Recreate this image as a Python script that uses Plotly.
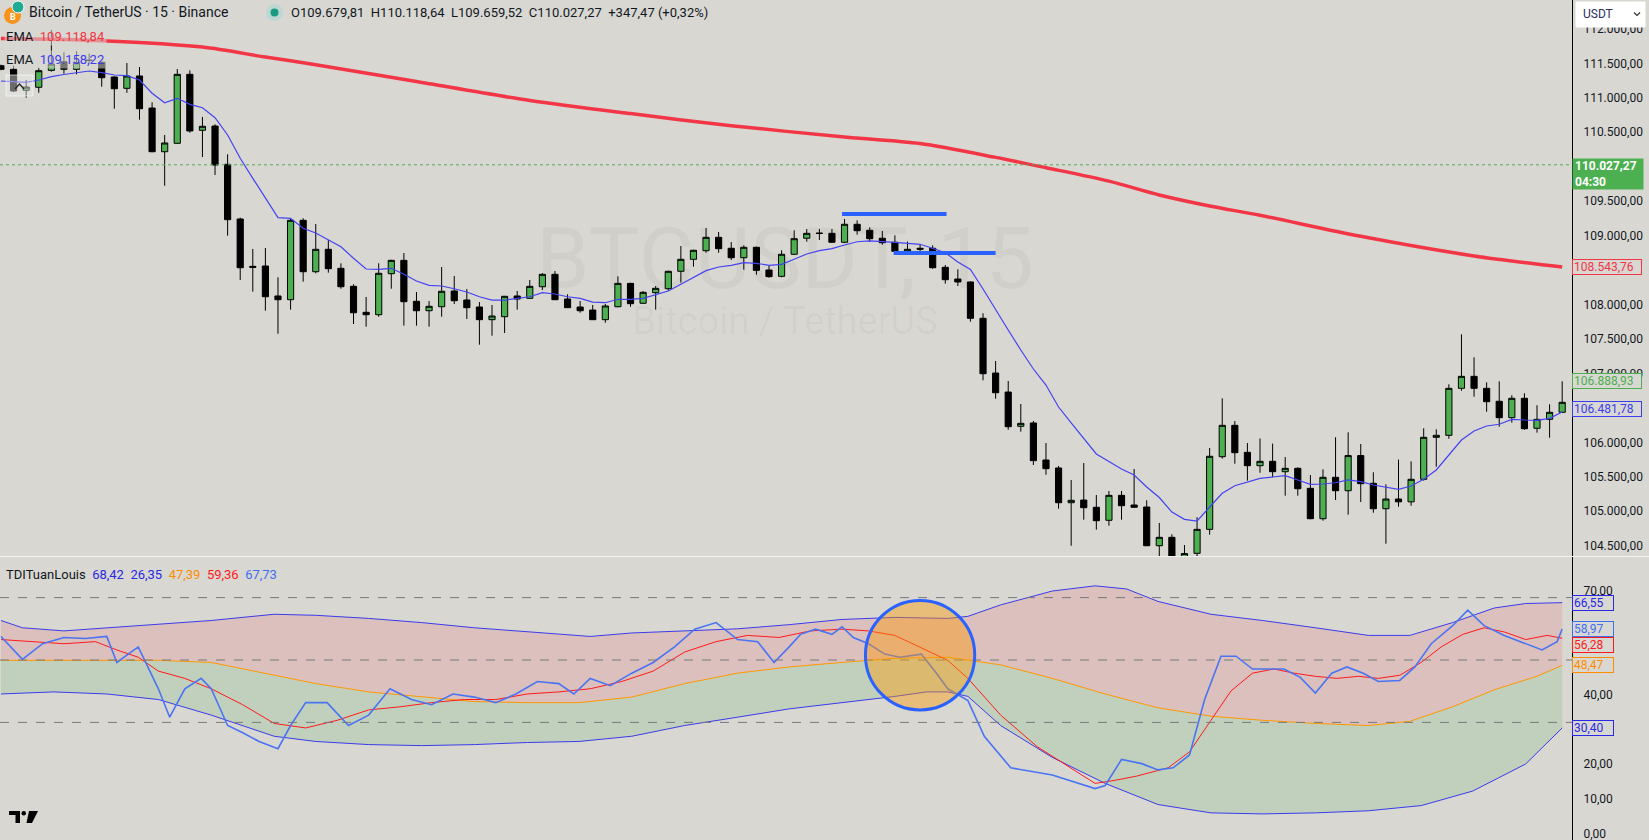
import plotly.graph_objects as go

W, H = 1649, 840
BG = "#d8d7d2"
TXT = "#131722"
FONT = "Roboto, Arial, sans-serif"

# ------------------------------------------------------------------ data
candle_idx = list(range(125))
opens = [111465, 111413, 111108, 111152, 111398, 111523, 111413, 111540, 111515, 111301,
         111137, 111316, 110851, 110217, 110339, 111340, 110528, 110590, 110034, 109241,
         108554, 108559, 108124, 108070, 109222, 108476, 108801, 108525, 108264, 107887,
         107852, 108447, 108641, 108047, 107910, 107968, 108196, 108066, 107964, 107780,
         107823, 108124, 108090, 108258, 108438, 108080, 107964, 107920, 107780, 107968,
         108307, 108018, 108171, 108229, 108482, 108656, 108781, 108975, 108816, 108679,
         108830, 108501, 108409, 108729, 108961, 109030, 109033, 108903, 109164, 109077,
         108961, 108903, 108772, 108816, 108816, 108540, 108370, 108327, 107800, 107006,
         106730, 106233, 106281, 105744, 105628, 105124, 105163, 105058, 104869, 105231,
         105091, 105062, 104500, 104622, 104330, 104390, 104738, 105792, 106247, 105855,
         105661, 105725, 105574, 105623, 105333, 104892, 105493, 105298, 105808, 105406,
         105037, 105178, 105137, 105464, 106073, 106102, 106784, 106958, 106784, 106596,
         106358, 106639, 106204, 106334, 106436]
highs = [111480, 111465, 111258, 111436, 111983, 111660, 111678, 111640, 111525, 111310,
         111504, 111446, 110934, 110460, 111417, 111398, 110721, 110615, 110180, 109260,
         108806, 108820, 108395, 109251, 109251, 109168, 108936, 108598, 108293, 108109,
         108598, 108650, 108747, 108181, 108051, 108544, 108414, 108225, 108036, 107993,
         108125, 108196, 108356, 108457, 108486, 108148, 108051, 107993, 108007, 108409,
         108315, 108196, 108269, 108490, 108849, 108795, 109110, 109052, 108907, 108859,
         108840, 108559, 108787, 109077, 109096, 109096, 109096, 109241, 109222, 109120,
         109067, 109004, 108913, 108874, 108859, 108573, 108511, 108335, 107873, 107180,
         106890, 106556, 106310, 105990, 105657, 105454, 105700, 105236, 105294, 105294,
         105613, 105159, 104830, 104666, 104510, 104913, 105918, 106639, 106310, 105990,
         106056, 105982, 105787, 105638, 105526, 105609, 106074, 106146, 105976, 105566,
         105391, 105750, 105725, 106204, 106189, 106842, 107568, 107234, 106871, 106886,
         106683, 106712, 106538, 106552, 106886]
lows = [111400, 111084, 111001, 111073, 111378, 111349, 111340, 111500, 111160, 110841,
        111073, 110682, 110210, 109724, 110335, 110493, 110140, 109879, 108999, 108356,
        108186, 107910, 107576, 107925, 108331, 108452, 108462, 108229, 107717, 107678,
        107823, 108229, 107693, 107693, 107678, 107823, 108007, 107790, 107417, 107547,
        107587, 107925, 108085, 108210, 108065, 107950, 107881, 107775, 107736, 107960,
        107968, 108010, 107925, 108200, 108317, 108549, 108752, 108752, 108646, 108505,
        108433, 108389, 108395, 108720, 108911, 108936, 108895, 108895, 109013, 108907,
        108868, 108765, 108733, 108733, 108520, 108302, 108269, 107751, 106900, 106633,
        106183, 106155, 105671, 105530, 105037, 104500, 104878, 104733, 104791, 104878,
        105050, 104495, 104322, 104300, 104250, 104330, 104660, 105763, 105690, 105444,
        105559, 105493, 105226, 105226, 104885, 104863, 105163, 104950, 105134, 104979,
        104529, 105066, 105080, 105444, 105647, 106053, 106749, 106662, 106445, 106227,
        106285, 106183, 106140, 106067, 106430]
closes = [111413, 111098, 111156, 111393, 111490, 111413, 111509, 111545, 111291, 111131,
          111316, 110841, 110217, 110344, 111340, 110518, 110586, 110024, 109231, 108534,
          108540, 108113, 108070, 109222, 108476, 108801, 108520, 108258, 107881, 107852,
          108453, 108641, 108041, 107910, 107974, 108192, 108055, 107954, 107780, 107833,
          108119, 108080, 108264, 108438, 108070, 107954, 107910, 107780, 107979, 108307,
          108012, 108177, 108235, 108482, 108656, 108787, 108975, 108810, 108679, 108830,
          108496, 108404, 108729, 108955, 109033, 109035, 108903, 109164, 109071, 108955,
          108897, 108772, 108801, 108801, 108534, 108360, 108327, 107800, 106996, 106720,
          106227, 106276, 105734, 105618, 105124, 105159, 105052, 104863, 105231, 105081,
          105058, 104500, 104622, 104350, 104386, 104738, 105798, 106247, 105850, 105661,
          105725, 105574, 105623, 105327, 104892, 105493, 105298, 105808, 105400, 105037,
          105178, 105137, 105464, 106073, 106102, 106784, 106958, 106784, 106590, 106358,
          106639, 106198, 106334, 106436, 106581]

ema_fast = [111243, 111233, 111224, 111258, 111306, 111337, 111364, 111388, 111364, 111330,
            111320, 111258, 111065, 110928, 110992, 110905, 110856, 110711, 110460, 110122,
            109831, 109541, 109260, 109251, 109106, 109038, 108936, 108839, 108671, 108515,
            108511, 108525, 108438, 108341, 108279, 108269, 108229, 108182, 108113, 108065,
            108065, 108084, 108113, 108171, 108153, 108113, 108090, 108036, 108026, 108076,
            108076, 108090, 108138, 108196, 108293, 108389, 108491, 108544, 108569, 108607,
            108598, 108569, 108583, 108656, 108733, 108781, 108810, 108864, 108911, 108922,
            108917, 108903, 108888, 108874, 108816, 108752, 108617, 108508, 108225, 107920,
            107630, 107340, 107064, 106832, 106513, 106281, 106049, 105831, 105722, 105613,
            105526, 105352, 105200, 104989, 104883, 104859, 105062, 105261, 105371, 105425,
            105478, 105497, 105516, 105454, 105391, 105396, 105414, 105454, 105429, 105381,
            105348, 105319, 105367, 105464, 105599, 105816, 106034, 106165, 106237, 106262,
            106334, 106324, 106320, 106349, 106440]

ema_slow_idx = [0, 8, 16, 21, 25, 33, 42, 50, 58, 67, 73, 79, 83, 88, 92, 96, 100, 108, 117, 124]
ema_slow = [111860, 111828, 111735, 111590, 111480, 111235, 110960, 110770, 110595, 110430,
            110335, 110135, 109985, 109790, 109590, 109430, 109295, 108990, 108705, 108544]

price_ticks = [104500, 105000, 105500, 106000, 107000, 107500, 108000,
               109000, 109500, 110500, 111000, 111500, 112000]
price_tick_text = ["104.500,00", "105.000,00", "105.500,00", "106.000,00",
                   "107.000,00", "107.500,00", "108.000,00", "109.000,00",
                   "109.500,00", "110.500,00", "111.000,00", "111.500,00", "112.000,00"]

last_price = 110027.27
last_price_txt = "110.027,27"
countdown = "04:30"
price_labels_val = [108543.76, 106888.93, 106481.78]
price_labels_txt = ["108.543,76", "106.888,93", "106.481,78"]
price_labels_col = ["#f23645", "#4caf50", "#3c3cf0"]

# horizontal drawings (start index, end index, price)
draw_x0 = [66.8, 70.9]
draw_x1 = [75.1, 79.0]
draw_price = [109314, 108747]

# TDI pane
up_x = [0, 1.7, 5, 8.4, 12.5, 16.7, 21.7, 25, 29.2, 33.4, 37.6, 41.8, 46.8, 50.1, 54.3,
        58.5, 62.6, 66.8, 71, 75.2, 76.8, 79.4, 83.5, 86.9, 89.4, 91.9, 96.1, 100.2, 104.4,
        108.6, 111.9, 115.3, 118.6, 121.1, 124]
up_v = [61.4, 59.3, 58.4, 59.3, 60.2, 61.4, 63.2, 62.9, 62.0, 60.8, 59.3, 58.1, 56.8, 57.8,
        58.4, 59.0, 60.2, 61.7, 62.3, 62.0, 62.6, 65.9, 69.9, 71.4, 70.5, 66.9, 63.2, 61.4,
        59.3, 57.1, 57.1, 60.8, 65.0, 66.3, 66.55]
mid_x = [0, 8.4, 12.5, 16.7, 20.9, 25, 29.2, 33.4, 37.6, 41.8, 45.9, 50.1, 54.3, 58.5, 62.6,
         66.8, 71, 75.2, 79.4, 83.5, 87.7, 91.9, 96.1, 100.2, 104.4, 108.6, 111.9, 115.3,
         118.6, 122, 124]
mid_v = [49.9, 49.9, 49.9, 49.3, 46.2, 43.2, 40.8, 39.3, 38.0, 37.7, 37.7, 39.3, 43.2, 46.2,
         48.0, 49.3, 50.5, 50.8, 48.6, 44.7, 40.2, 36.2, 33.8, 32.6, 31.7, 31.1, 32.3, 36.5,
         41.4, 45.3, 48.47]
low_x = [0, 4.2, 8.4, 12.5, 16.7, 19.2, 21.7, 25, 29.2, 33.4, 37.6, 41.8, 45.9, 50.1, 54.3,
         58.5, 62.6, 66.8, 71, 73.5, 75.2, 76.8, 79.4, 83.5, 87.7, 91.9, 96.1, 100.2, 104.4,
         108.6, 112.8, 116.9, 121.1, 124]
low_v = [40.2, 40.8, 40.2, 38.6, 34.1, 31.1, 28.0, 26.5, 25.6, 25.3, 25.6, 26.2, 26.5, 28.0,
         31.1, 33.5, 35.9, 37.7, 39.5, 40.8, 40.8, 39.5, 31.1, 21.9, 14.4, 8.3, 5.9, 5.6, 5.9,
         6.5, 8.0, 12.2, 20.0, 30.4]
rsi_x = [0, 1.7, 3.3, 5, 6.7, 8.4, 9.2, 10.9, 12.5, 13.4, 14.6, 15.9, 16.7, 18, 19.2, 20.5,
         22, 23, 24.2, 25.9, 27.6, 29.2, 30.9, 32.6, 34.2, 35.9, 37.6, 39.3, 40.9, 42.6, 44.3,
         45.5, 46.8, 48.4, 50.1, 51.8, 53.5, 55.1, 56.8, 58.5, 60.1, 61.4, 62.6, 63.5, 64.7,
         66, 66.8, 67.7, 68.9, 70.2, 71.4, 73.1, 74.3, 75.2, 76.8, 78.1, 80.2, 83.5, 86.9,
         87.7, 89, 90.6, 91.9, 93.1, 94.4, 95.6, 96.9, 98.1, 99.4, 100.2, 101.9, 103.2, 104.4,
         105.7, 106.9, 108.2, 109.4, 111.1, 112.3, 113.6, 115.3, 116.5, 117.8, 119.4, 120.7,
         122.4, 123.6, 124]
rsi_v = [56.8, 50.2, 54.7, 56.5, 56.2, 56.8, 49.3, 53.8, 41.7, 33.5, 41.7, 44.7, 41.7, 31.1,
         29.0, 26.5, 24.4, 31.1, 37.7, 37.7, 31.1, 34.1, 41.7, 38.6, 37.1, 40.2, 39.3, 37.7,
         40.2, 43.8, 43.2, 40.2, 44.7, 42.6, 46.2, 49.3, 53.8, 58.9, 60.8, 55.9, 55.3, 49.3,
         53.8, 57.4, 58.9, 57.4, 59.6, 56.5, 54.7, 51.7, 50.8, 51.7, 46.2, 41.7, 38.3, 28.0,
         18.9, 16.8, 12.9, 13.8, 21.3, 20.1, 18.3, 18.9, 22.6, 38.6, 51.1, 51.1, 47.4, 47.4,
         47.4, 45.0, 40.5, 46.2, 48.0, 46.2, 43.8, 44.1, 48.0, 54.7, 59.9, 64.4, 59.9, 57.1,
         55.3, 52.9, 55.3, 58.97]
sig_x = [0, 2.5, 5, 7.5, 9.2, 10.9, 12.5, 14.6, 16.7, 19.2, 21.7, 24.2, 26.7, 29.2, 31.7,
         34.2, 36.8, 39.3, 41.8, 44.3, 46.8, 49.3, 51.8, 54.3, 56.8, 59.3, 61.8, 64.3, 66.8,
         68.9, 71, 73.1, 75.2, 76.8, 79.4, 82.3, 85.2, 86.9, 88.5, 90.2, 92.7, 94.4, 96.1,
         97.7, 99.4, 101.1, 102.7, 104.4, 106.1, 107.8, 109.4, 111.1, 112.8, 114.4, 116.1,
         117.8, 119.4, 121.1, 122.8, 124]
sig_v = [55.9, 55.3, 54.7, 55.3, 52.9, 50.8, 46.8, 44.7, 41.7, 37.1, 31.7, 30.4, 32.6, 35.6,
         36.5, 37.7, 38.6, 38.6, 40.2, 40.8, 41.7, 43.8, 46.8, 52.3, 55.3, 57.1, 56.5, 58.4,
         58.9, 58.4, 57.1, 53.5, 49.9, 44.7, 34.1, 25.0, 18.3, 14.4, 15.3, 16.5, 18.9, 23.5,
         32.6, 41.1, 46.2, 47.4, 46.2, 45.3, 44.7, 45.3, 44.7, 45.6, 49.3, 53.8, 57.4, 59.3,
         58.1, 55.9, 57.1, 56.28]
tdi_ticks = [0, 10, 20, 40, 70]
tdi_tick_text = ["0,00", "10,00", "20,00", "40,00", "70,00"]
tdi_levels = [32, 50, 68]
tdi_labels_val = [66.55, 58.97, 56.28, 48.47, 30.40]
tdi_labels_txt = ["66,55", "58,97", "56,28", "48,47", "30,40"]
tdi_labels_col = ["#2828e6", "#3f6ff2", "#ff1a1a", "#ff8c00", "#2828e6"]
tdi_legend_vals = ["68,42", "26,35", "47,39", "59,36", "67,73"]
tdi_legend_cols = ["#2828e6", "#2828e6", "#ff8c00", "#ff1a1a", "#3f6ff2"]

# circle drawing in the TDI pane (center index, center value, radii)
circle_c = [73.0, 51.4]
circle_r = [4.34, 15.8]

# ------------------------------------------------------------------ geometry helpers
PLOT_R = 1572
PRICE_BOT = 556.5
TDI_TOP = 557
LABEL_H = 16.5


def xp(px):
    return px / W


def yp(py):
    return 1 - py / H


X_RANGE = [-0.079, 124.78]
Y_RANGE = [104343.7, 112418.5]
Y2_RANGE = [-1.93, 79.72]


def tdi_px(v):
    return TDI_TOP + (Y2_RANGE[1] - v) / (Y2_RANGE[1] - Y2_RANGE[0]) * (H - TDI_TOP)


fig = go.Figure()

# ------------------------------------------------------------------ price pane
fig.add_trace(go.Candlestick(
    x=candle_idx, open=opens, high=highs, low=lows, close=closes,
    increasing=dict(line=dict(color="#000000", width=1), fillcolor="#4caf50"),
    decreasing=dict(line=dict(color="#000000", width=1), fillcolor="#000000"),
    whiskerwidth=0, hoverinfo="skip", showlegend=False, xaxis="x", yaxis="y"))

fig.add_trace(go.Scatter(x=ema_slow_idx, y=ema_slow, mode="lines",
                         line=dict(color="#f23645", width=3.5, shape="spline", smoothing=0.8),
                         hoverinfo="skip", showlegend=False, xaxis="x", yaxis="y"))
fig.add_trace(go.Scatter(x=candle_idx, y=ema_fast, mode="lines",
                         line=dict(color="#4343f2", width=1.2),
                         hoverinfo="skip", showlegend=False, xaxis="x", yaxis="y"))

# ------------------------------------------------------------------ TDI pane
fig.add_trace(go.Scatter(x=up_x, y=up_v, mode="lines", line=dict(color="#3b3bea", width=1),
                         hoverinfo="skip", showlegend=False, xaxis="x2", yaxis="y2"))
fig.add_trace(go.Scatter(x=mid_x, y=mid_v, mode="lines", line=dict(color="#ff9800", width=1),
                         fill="tonexty", fillcolor="rgba(242,54,69,0.14)",
                         hoverinfo="skip", showlegend=False, xaxis="x2", yaxis="y2"))
fig.add_trace(go.Scatter(x=low_x, y=low_v, mode="lines", line=dict(color="#3b3bea", width=1),
                         fill="tonexty", fillcolor="rgba(76,175,80,0.16)",
                         hoverinfo="skip", showlegend=False, xaxis="x2", yaxis="y2"))
fig.add_trace(go.Scatter(x=sig_x, y=sig_v, mode="lines", line=dict(color="#ff1a1a", width=1),
                         hoverinfo="skip", showlegend=False, xaxis="x2", yaxis="y2"))
fig.add_trace(go.Scatter(x=rsi_x, y=rsi_v, mode="lines", line=dict(color="#4a74f2", width=1.6),
                         hoverinfo="skip", showlegend=False, xaxis="x2", yaxis="y2"))

shapes = []
annotations = []

# watermark
shapes.append(dict(type="rect", xref="paper", yref="paper", x0=xp(500), x1=xp(1070),
                   y0=yp(290), y1=yp(215), line=dict(width=0), fillcolor="rgba(0,0,0,0)",
                   layer="below",
                   label=dict(text="BTCUSDT, 15", textposition="middle center",
                              font=dict(family=FONT, size=86, color="rgba(0,0,0,0.035)"))))
shapes.append(dict(type="rect", xref="paper", yref="paper", x0=xp(500), x1=xp(1070),
                   y0=yp(336), y1=yp(300), line=dict(width=0), fillcolor="rgba(0,0,0,0)",
                   layer="below",
                   label=dict(text="Bitcoin / TetherUS", textposition="middle center",
                              font=dict(family=FONT, size=38, color="rgba(0,0,0,0.035)"))))

# last price dotted line
shapes.append(dict(type="line", xref="paper", yref="y", x0=0, x1=xp(PLOT_R),
                   y0=last_price, y1=last_price, line=dict(color="#4caf50", width=1, dash="dot")))

# blue horizontal drawings
for a, b, p in zip(draw_x0, draw_x1, draw_price):
    shapes.append(dict(type="line", xref="x", yref="y", x0=a, x1=b, y0=p, y1=p,
                       line=dict(color="#2962ff", width=4)))

# TDI dashed levels
for lv in tdi_levels:
    shapes.append(dict(type="line", xref="paper", yref="y2", x0=0, x1=xp(PLOT_R), y0=lv, y1=lv,
                       line=dict(color="#77787c", width=1, dash="dash")))

# circle
shapes.append(dict(type="circle", xref="x2", yref="y2",
                   x0=circle_c[0] - circle_r[0], x1=circle_c[0] + circle_r[0],
                   y0=circle_c[1] - circle_r[1], y1=circle_c[1] + circle_r[1],
                   fillcolor="rgba(255,152,0,0.42)", line=dict(color="#2962ff", width=3)))

# pane separator
shapes.append(dict(type="line", xref="paper", yref="paper", x0=0, x1=1,
                   y0=yp(PRICE_BOT), y1=yp(PRICE_BOT), line=dict(color="#f4f4f4", width=1)))

# ------------------------------------------------------------------ header
shapes.append(dict(type="circle", xref="paper", yref="paper", x0=xp(4), x1=xp(21),
                   y0=yp(24), y1=yp(7), fillcolor="#f7931a", line=dict(width=0)))
shapes.append(dict(type="circle", xref="paper", yref="paper", x0=xp(12), x1=xp(24),
                   y0=yp(13), y1=yp(1), fillcolor="#22ab94", line=dict(color="#ffffff", width=1)))
annotations.append(dict(xref="paper", yref="paper", x=xp(12.5), y=yp(17), text="<b>B</b>",
                        showarrow=False, font=dict(family=FONT, size=9, color="#ffffff"),
                        xanchor="center", yanchor="middle"))
annotations.append(dict(xref="paper", yref="paper", x=xp(27), y=yp(12.5),
                        text="Bitcoin / TetherUS · 15 · Binance", showarrow=False,
                        font=dict(family=FONT, size=14, color=TXT), xanchor="left",
                        yanchor="middle"))
shapes.append(dict(type="circle", xref="paper", yref="paper", x0=xp(266), x1=xp(283),
                   y0=yp(21), y1=yp(4), fillcolor="#bcd8d2", line=dict(width=0)))
shapes.append(dict(type="circle", xref="paper", yref="paper", x0=xp(270.5), x1=xp(278.5),
                   y0=yp(16.5), y1=yp(8.5), fillcolor="#1a9a85", line=dict(width=0)))
annotations.append(dict(xref="paper", yref="paper", x=xp(289), y=yp(12.5),
                        text="O109.679,81  H110.118,64  L109.659,52  C110.027,27  +347,47 (+0,32%)",
                        showarrow=False, font=dict(family=FONT, size=13, color=TXT),
                        xanchor="left", yanchor="middle"))

# EMA legend rows
annotations.append(dict(xref="paper", yref="paper", x=xp(4), y=yp(37),
                        text="EMA  <span style='color:#f23645'>109.118,84</span>",
                        showarrow=False, font=dict(family=FONT, size=13, color=TXT),
                        xanchor="left", yanchor="middle", bgcolor="rgba(216,215,210,0.55)"))
annotations.append(dict(xref="paper", yref="paper", x=xp(4), y=yp(60),
                        text="EMA  <span style='color:#3c3cf0'>109.158,22</span>",
                        showarrow=False, font=dict(family=FONT, size=13, color=TXT),
                        xanchor="left", yanchor="middle", bgcolor="rgba(216,215,210,0.55)"))
shapes.append(dict(type="rect", xref="paper", yref="paper", x0=xp(6), x1=xp(33),
                   y0=yp(96), y1=yp(75), fillcolor="rgba(235,235,232,0.45)",
                   line=dict(color="rgba(255,255,255,0.6)", width=1)))
shapes.append(dict(type="path", xref="paper", yref="paper",
                   path=f"M {xp(15)},{yp(89)} L {xp(19.5)},{yp(84)} L {xp(24)},{yp(89)}",
                   line=dict(color="#222222", width=1.3)))

# TDI legend
tdi_txt = "TDITuanLouis  " + "  ".join(
    f"<span style='color:{c}'>{v}</span>" for v, c in zip(tdi_legend_vals, tdi_legend_cols))
annotations.append(dict(xref="paper", yref="paper", x=xp(4), y=yp(574), text=tdi_txt,
                        showarrow=False, font=dict(family=FONT, size=13, color=TXT),
                        xanchor="left", yanchor="middle"))

# ------------------------------------------------------------------ right scale widgets
shapes.append(dict(type="rect", xref="paper", yref="paper", x0=xp(1576), x1=xp(1645),
                   y0=yp(27), y1=yp(2), fillcolor="#ffffff", line=dict(color="#ffffff", width=1)))
annotations.append(dict(xref="paper", yref="paper", x=xp(1581), y=yp(14), text="USDT",
                        showarrow=False, font=dict(family=FONT, size=12, color="#2a2e60"),
                        xanchor="left", yanchor="middle"))
shapes.append(dict(type="path", xref="paper", yref="paper",
                   path=f"M {xp(1634)},{yp(12.5)} L {xp(1637)},{yp(15.5)} L {xp(1640)},{yp(12.5)}",
                   line=dict(color="#333333", width=1.2)))

annotations.append(dict(xref="paper", yref="paper", x=xp(PLOT_R), y=yp(157.5),
                        text=f"<b>{last_price_txt}</b><br><b>{countdown}</b>", showarrow=False,
                        font=dict(family=FONT, size=12, color="#ffffff"), xanchor="left",
                        yanchor="top", align="left", bgcolor="#4caf50", width=66, height=26,
                        borderpad=2))
for v, t, c in zip(price_labels_val, price_labels_txt, price_labels_col):
    annotations.append(dict(xref="paper", yref="y", x=xp(PLOT_R), y=v, text=t,
                            showarrow=False, font=dict(family=FONT, size=12, color=c),
                            xanchor="left", yanchor="middle", align="left", bgcolor=BG,
                            bordercolor=c, borderwidth=1, borderpad=1, width=66, height=12))

# TDI scale labels: stacked so they don't overlap (as the platform does)
order = sorted(range(len(tdi_labels_val)), key=lambda k: -tdi_labels_val[k])
placed = {}
prev = None
for k in order:
    py = tdi_px(tdi_labels_val[k])
    if prev is not None and py < prev + LABEL_H:
        py = prev + LABEL_H
    placed[k] = py
    prev = py
for k in range(len(tdi_labels_val)):
    c = tdi_labels_col[k]
    annotations.append(dict(xref="paper", yref="paper", x=xp(PLOT_R), y=yp(placed[k]),
                            text=tdi_labels_txt[k], showarrow=False,
                            font=dict(family=FONT, size=12, color=c),
                            xanchor="left", yanchor="middle", align="left", bgcolor=BG,
                            bordercolor=c, borderwidth=1, borderpad=1, width=38, height=12))

# TradingView logo
shapes.append(dict(type="rect", xref="paper", yref="paper", x0=xp(9), x1=xp(20),
                   y0=yp(815), y1=yp(811), fillcolor="#000000", line=dict(width=0)))
shapes.append(dict(type="rect", xref="paper", yref="paper", x0=xp(15.5), x1=xp(20),
                   y0=yp(823), y1=yp(811), fillcolor="#000000", line=dict(width=0)))
shapes.append(dict(type="circle", xref="paper", yref="paper", x0=xp(21.5), x1=xp(26),
                   y0=yp(815.5), y1=yp(811), fillcolor="#000000", line=dict(width=0)))
shapes.append(dict(type="path", xref="paper", yref="paper",
                   path=(f"M {xp(29)},{yp(811)} L {xp(38)},{yp(811)} L {xp(32)},{yp(823)} "
                         f"L {xp(26.5)},{yp(823)} Z"),
                   fillcolor="#000000", line=dict(width=0)))

axis_common = dict(showgrid=False, zeroline=False)
fig.update_layout(
    width=W, height=H, margin=dict(l=0, r=0, t=0, b=0),
    paper_bgcolor=BG, plot_bgcolor=BG, separators=",.",
    font=dict(family=FONT, color=TXT, size=12),
    showlegend=False, hovermode=False, dragmode=False,
    xaxis=dict(domain=[0, xp(PLOT_R)], range=X_RANGE, visible=False, anchor="y",
               rangeslider=dict(visible=False), **axis_common),
    xaxis2=dict(domain=[0, xp(PLOT_R)], range=X_RANGE, visible=False, anchor="y2",
                **axis_common),
    yaxis=dict(domain=[yp(PRICE_BOT), 1], range=Y_RANGE, side="right", anchor="x",
               tickvals=price_ticks, ticktext=price_tick_text,
               ticks="", ticklabelstandoff=8, ticklabeloverflow="allow",
               showline=True, linecolor="#000000", linewidth=1,
               tickfont=dict(family=FONT, size=12, color=TXT), **axis_common),
    yaxis2=dict(domain=[0, yp(TDI_TOP)], range=Y2_RANGE, side="right", anchor="x2",
                tickvals=tdi_ticks, ticktext=tdi_tick_text, ticks="", ticklabelstandoff=8,
                ticklabeloverflow="allow",
                showline=True, linecolor="#000000", linewidth=1,
                tickfont=dict(family=FONT, size=12, color=TXT), **axis_common),
    shapes=shapes, annotations=annotations,
)

fig.write_html("out.html", config={"displayModeBar": False, "staticPlot": True},
               post_script="document.body.style.margin='0px';document.body.style.overflow='hidden';")
